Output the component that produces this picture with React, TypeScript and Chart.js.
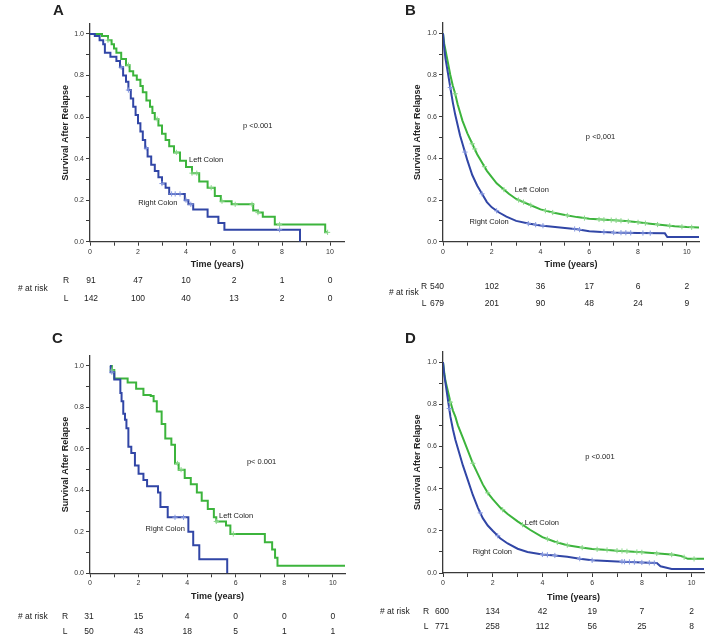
import React, { useEffect, useRef } from 'react';
import { Chart, registerables } from 'chart.js';

Chart.register(...registerables);

const FONT = '"Liberation Sans", Arial, Helvetica, sans-serif';
Chart.defaults.font.family = FONT;

const BLUE = '#3146a6';
const GREEN = '#3cb43c';
const BLUE_MARK = '#8598e0';
const GREEN_MARK = '#8ad88a';
const TEXT = '#222222';
const AXIS = '#3a3a3a';

// ---------- shared ticks ----------
const X_TICKS = [0, 1, 2, 3, 4, 5, 6, 7, 8, 9, 10];
const Y_TICKS = [0, 0.1, 0.2, 0.3, 0.4, 0.5, 0.6, 0.7, 0.8, 0.9, 1.0];
const RISK_TIMES = [0, 2, 4, 6, 8, 10];

// ---------- Panel A ----------
const A_RIGHT_T = [0, 0.2, 0.4, 0.55, 0.62, 0.85, 1.1, 1.25, 1.38, 1.5, 1.6, 1.7, 1.8, 1.9, 2.0, 2.1, 2.2, 2.3, 2.4, 2.55, 2.7, 2.85, 3.0, 3.15, 3.3, 3.95, 4.1, 4.3, 4.9, 5.35, 5.6, 8.75];
const A_RIGHT_S = [1.0, 0.99, 0.97, 0.95, 0.91, 0.89, 0.87, 0.84, 0.8, 0.77, 0.73, 0.69, 0.65, 0.61, 0.57, 0.53, 0.49, 0.45, 0.41, 0.37, 0.34, 0.31, 0.28, 0.26, 0.23, 0.2, 0.18, 0.155, 0.12, 0.09, 0.058, 0.0];
const A_RIGHT_CENSOR = [1.3, 1.6, 2.35, 3.0, 3.4, 3.55, 3.75, 4.0, 4.2, 7.9];
const A_LEFT_T = [0, 0.5, 0.75, 0.9, 1.0, 1.1, 1.3, 1.5, 1.65, 1.8, 1.95, 2.1, 2.2, 2.35, 2.5, 2.6, 2.7, 2.85, 3.0, 3.15, 3.3, 3.5, 3.75, 4.0, 4.25, 4.55, 4.9, 5.2, 5.45, 5.9, 6.8, 7.0, 7.2, 7.7, 9.8, 9.9];
const A_LEFT_S = [1.0, 0.99, 0.97, 0.95, 0.93, 0.91, 0.88, 0.85, 0.82, 0.8, 0.78, 0.75, 0.72, 0.68, 0.65, 0.62, 0.59, 0.56, 0.52, 0.49, 0.46, 0.43, 0.39, 0.36, 0.33, 0.29, 0.26, 0.22, 0.195, 0.18, 0.15, 0.14, 0.12, 0.083, 0.045, 0.045];
const A_LEFT_CENSOR = [0.75, 1.6, 2.8, 3.6, 4.25, 4.45, 5.05, 5.5, 6.05, 6.75, 7.0, 7.9, 9.9];
const A_RISK_R = [91, 47, 10, 2, 1, 0];
const A_RISK_L = [142, 100, 40, 13, 2, 0];

// ---------- Panel B ----------
const B_RIGHT_T = [0, 0.05, 0.1, 0.2, 0.3, 0.4, 0.5, 0.6, 0.7, 0.8, 0.9, 1.0, 1.2, 1.4, 1.6, 1.8, 2.0, 2.3, 2.6, 3.0, 3.5, 4.0, 4.5, 5.0, 5.5, 6.0, 6.5, 7.0, 8.0, 9.1, 9.2, 10.5];
const B_RIGHT_S = [1.0, 0.93, 0.88, 0.81, 0.74, 0.67, 0.61, 0.56, 0.51, 0.47, 0.43, 0.39, 0.32, 0.27, 0.23, 0.19, 0.165, 0.14, 0.12, 0.1, 0.087, 0.078, 0.072, 0.066, 0.06, 0.05, 0.047, 0.044, 0.042, 0.04, 0.022, 0.022];
const B_RIGHT_CENSOR = [0.3, 0.9, 1.6, 2.2, 3.5, 3.8, 4.1, 5.4, 5.6, 6.6, 7.0, 7.3, 7.5, 7.7, 8.2, 8.5];
const B_LEFT_T = [0, 0.05, 0.1, 0.2, 0.3, 0.4, 0.5, 0.6, 0.7, 0.8, 0.9, 1.0, 1.2, 1.4, 1.6, 1.8, 2.0, 2.2, 2.4, 2.7, 3.0, 3.3, 3.6, 4.0, 4.5, 5.0, 5.5, 6.0, 6.5, 7.0, 7.5, 8.0, 8.5, 9.0, 9.5, 10.0, 10.5];
const B_LEFT_S = [1.0, 0.95, 0.92, 0.86, 0.8, 0.75, 0.71, 0.66, 0.62, 0.58, 0.55, 0.52, 0.47, 0.42, 0.38, 0.34, 0.31, 0.28, 0.26, 0.23, 0.205, 0.19, 0.175, 0.155, 0.14, 0.128, 0.118, 0.11, 0.106, 0.103, 0.099, 0.093, 0.086, 0.08, 0.074, 0.07, 0.068];
const B_LEFT_CENSOR = [0.5, 1.2, 1.3, 1.7, 2.5, 3.1, 3.3, 3.6, 4.2, 4.5, 5.1, 5.8, 6.4, 6.6, 6.9, 7.1, 7.3, 7.6, 8.0, 8.3, 8.8, 9.3, 9.8, 10.2];
const B_RISK_R = [540, 102, 36, 17, 6, 2];
const B_RISK_L = [679, 201, 90, 48, 24, 9];

// ---------- Panel C ----------
const C_RIGHT_T = [0.82, 0.85, 1.0, 1.25, 1.3, 1.37, 1.44, 1.5, 1.58, 1.7, 1.85, 2.0, 2.2, 2.35, 2.8, 2.9, 3.2, 4.05, 4.25, 4.5, 5.65];
const C_RIGHT_S = [1.0, 0.97, 0.935, 0.87, 0.83, 0.77, 0.74, 0.7, 0.61, 0.58, 0.52, 0.48, 0.45, 0.42, 0.39, 0.32, 0.27, 0.2, 0.135, 0.068, 0.0];
const C_RIGHT_CENSOR = [0.9, 3.5, 3.85];
const C_LEFT_T = [0.82, 0.9, 1.0, 1.55, 1.9, 2.2, 2.5, 2.62, 2.75, 2.95, 3.1, 3.35, 3.5, 3.65, 3.9, 4.15, 4.4, 4.6, 4.85, 5.1, 5.2, 5.6, 5.78, 7.2, 7.5, 7.62, 7.72, 10.5];
const C_LEFT_S = [1.0, 0.98, 0.94, 0.92, 0.89, 0.86, 0.855, 0.83, 0.78, 0.72, 0.65, 0.62, 0.53, 0.5, 0.46, 0.43, 0.39, 0.35, 0.31, 0.27, 0.25, 0.23, 0.19, 0.15, 0.115, 0.075, 0.037, 0.037];
const C_LEFT_CENSOR = [0.9, 3.6, 3.75, 5.2, 5.9];
const C_RISK_R = [31, 15, 4, 0, 0, 0];
const C_RISK_L = [50, 43, 18, 5, 1, 1];

// ---------- Panel D ----------
const D_RIGHT_T = [0, 0.05, 0.1, 0.2, 0.3, 0.4, 0.5, 0.6, 0.8, 1.0, 1.2, 1.4, 1.6, 1.8, 2.0, 2.3, 2.6, 3.0, 3.4, 4.0, 4.5, 5.0, 5.5, 6.0, 7.0, 8.0, 8.6, 8.75, 9.2, 10.5];
const D_RIGHT_S = [1.0, 0.94, 0.9, 0.82, 0.74, 0.68, 0.63, 0.59, 0.51, 0.44, 0.37, 0.31, 0.26, 0.225, 0.2, 0.165, 0.14, 0.115, 0.1, 0.088, 0.083, 0.077, 0.068, 0.06, 0.055, 0.05, 0.047, 0.032, 0.019, 0.019];
const D_RIGHT_CENSOR = [0.25, 1.5, 2.2, 4.0, 4.2, 4.5, 5.5, 6.0, 7.2, 7.3, 7.5, 7.7, 8.0, 8.3, 8.5];
const D_LEFT_T = [0, 0.05, 0.1, 0.2, 0.3, 0.4, 0.5, 0.6, 0.8, 1.0, 1.2, 1.4, 1.6, 1.8, 2.0, 2.3, 2.6, 3.0, 3.5, 4.0, 4.5, 5.0, 5.5, 6.0, 6.5, 7.0, 8.0, 8.8, 9.3, 9.6, 9.85, 10.5];
const D_LEFT_S = [1.0, 0.95, 0.91, 0.86, 0.81, 0.77, 0.74, 0.7, 0.64, 0.58, 0.52, 0.47, 0.42, 0.38, 0.35, 0.31, 0.28, 0.245, 0.205, 0.17, 0.148, 0.132, 0.122, 0.114, 0.11, 0.106, 0.098, 0.091, 0.086, 0.08, 0.067, 0.067];
const D_LEFT_CENSOR = [0.3, 1.2, 1.8, 2.4, 3.2, 4.2, 4.6, 5.0, 5.6, 6.2, 6.6, 7.0, 7.2, 7.4, 7.8, 8.0, 8.6, 9.2, 9.7, 10.1];
const D_RISK_R = [600, 134, 42, 19, 7, 2];
const D_RISK_L = [771, 258, 112, 56, 25, 8];

// ---------- helpers ----------
function stepAt(ts: number[], ss: number[], t: number) {
  let v = ss[0];
  for (let i = 0; i < ts.length; i++) {
    if (ts[i] <= t) v = ss[i];
    else break;
  }
  return v;
}
function lineAt(ts: number[], ss: number[], t: number) {
  for (let i = 0; i < ts.length - 1; i++) {
    if (t >= ts[i] && t <= ts[i + 1]) {
      const f = (t - ts[i]) / (ts[i + 1] - ts[i]);
      return ss[i] + f * (ss[i + 1] - ss[i]);
    }
  }
  return ss[ss.length - 1];
}

type Curve = { t: number[]; s: number[]; censor: number[] };
type Spec = {
  letter: string;
  box: { x: number; y: number; w: number; h: number };
  pad: { left: number; top: number; right: number; bottom: number };
  yWidth: number;
  xHeight: number;
  yTitlePad: number;
  xMax: number;
  stepped: boolean;
  right: Curve;
  left: Curve;
  riskR: number[];
  riskL: number[];
  letterPos: [number, number];
  pText: string;
  pAt: [number, number];
  leftLabelAt: [number, number];
  rightLabelAt: [number, number];
  atRiskPos: [number, number];
  rlX: number;
  rowY: [number, number];
  firstOff: number;
};

const SPECS: Spec[] = [
  {
    letter: 'A',
    box: { x: 0, y: 0, w: 354, h: 310 },
    pad: { left: 0, top: 23.6, right: 9.6, bottom: 39.6 },
    yWidth: 90, xHeight: 28.7, yTitlePad: 60.6, xMax: 10.6, stepped: true,
    right: { t: A_RIGHT_T, s: A_RIGHT_S, censor: A_RIGHT_CENSOR },
    left: { t: A_LEFT_T, s: A_LEFT_S, censor: A_LEFT_CENSOR },
    riskR: A_RISK_R, riskL: A_RISK_L,
    letterPos: [53, 15], pText: 'p <0.001', pAt: [6.375, 0.556],
    leftLabelAt: [4.125, 0.393], rightLabelAt: [2.01, 0.1875],
    atRiskPos: [18, 289], rlX: 66, rowY: [281, 299], firstOff: 1,
  },
  {
    letter: 'B',
    box: { x: 354, y: 0, w: 355, h: 310 },
    pad: { left: 0, top: 22.9, right: 10, bottom: 39.6 },
    yWidth: 89, xHeight: 28.7, yTitlePad: 58.6, xMax: 10.5, stepped: false,
    right: { t: B_RIGHT_T, s: B_RIGHT_S, censor: B_RIGHT_CENSOR },
    left: { t: B_LEFT_T, s: B_LEFT_S, censor: B_LEFT_CENSOR },
    riskR: B_RISK_R, riskL: B_RISK_L,
    letterPos: [51, 14.5], pText: 'p <0,001', pAt: [5.86, 0.502],
    leftLabelAt: [2.94, 0.248], rightLabelAt: [1.09, 0.096],
    atRiskPos: [35, 293], rlX: 70, rowY: [287, 304], firstOff: -6,
  },
  {
    letter: 'C',
    box: { x: 0, y: 310, w: 354, h: 327 },
    pad: { left: 0, top: 45.6, right: 9, bottom: 34.6 },
    yWidth: 90, xHeight: 29.1, yTitlePad: 60.6, xMax: 10.5, stepped: true,
    right: { t: C_RIGHT_T, s: C_RIGHT_S, censor: C_RIGHT_CENSOR },
    left: { t: C_LEFT_T, s: C_LEFT_S, censor: C_LEFT_CENSOR },
    riskR: C_RISK_R, riskL: C_RISK_L,
    letterPos: [52, 33], pText: 'p< 0.001', pAt: [6.46, 0.537],
    leftLabelAt: [5.31, 0.278], rightLabelAt: [2.29, 0.214],
    atRiskPos: [18, 307], rlX: 65, rowY: [307, 322], firstOff: -1,
  },
  {
    letter: 'D',
    box: { x: 354, y: 310, w: 355, h: 327 },
    pad: { left: 0, top: 41.5, right: 3.5, bottom: 33.6 },
    yWidth: 89, xHeight: 30.4, yTitlePad: 58.6, xMax: 10.5, stepped: false,
    right: { t: D_RIGHT_T, s: D_RIGHT_S, censor: D_RIGHT_CENSOR },
    left: { t: D_LEFT_T, s: D_LEFT_S, censor: D_LEFT_CENSOR },
    riskR: D_RISK_R, riskL: D_RISK_L,
    letterPos: [51, 33], pText: 'p <0.001', pAt: [5.72, 0.55],
    leftLabelAt: [3.29, 0.237], rightLabelAt: [1.2, 0.098],
    atRiskPos: [26, 302], rlX: 72, rowY: [302, 317], firstOff: -1,
  },
];

function Panel({ spec }: { spec: Spec }) {
  const ref = useRef<HTMLCanvasElement>(null);

  useEffect(() => {
    const canvas = ref.current;
    if (!canvas) return;
    const at = spec.stepped ? stepAt : lineAt;
    const line = (c: Curve) => c.t.map((t, i) => ({ x: t, y: c.s[i] }));
    const marks = (c: Curve) => c.censor.map((t) => ({ x: t, y: at(c.t, c.s, t) }));

    const textPlugin = {
      id: 'panelText',
      afterDraw(chart: any) {
        const ctx: CanvasRenderingContext2D = chart.ctx;
        const xs = chart.scales.x;
        const ys = chart.scales.y;
        ctx.save();
        ctx.fillStyle = TEXT;
        // panel letter
        ctx.font = `bold 15px ${FONT}`;
        ctx.textAlign = 'left';
        ctx.textBaseline = 'alphabetic';
        ctx.fillText(spec.letter, spec.letterPos[0], spec.letterPos[1]);
        // annotations
        ctx.font = `7.5px ${FONT}`;
        ctx.textBaseline = 'middle';
        ctx.fillText(spec.pText, xs.getPixelForValue(spec.pAt[0]), ys.getPixelForValue(spec.pAt[1]));
        ctx.fillText('Left Colon', xs.getPixelForValue(spec.leftLabelAt[0]), ys.getPixelForValue(spec.leftLabelAt[1]));
        ctx.fillText('Right Colon', xs.getPixelForValue(spec.rightLabelAt[0]), ys.getPixelForValue(spec.rightLabelAt[1]));
        // risk table
        ctx.font = `8.5px ${FONT}`;
        ctx.fillText('# at risk', spec.atRiskPos[0], spec.atRiskPos[1]);
        ctx.textAlign = 'center';
        ctx.fillText('R', spec.rlX, spec.rowY[0]);
        ctx.fillText('L', spec.rlX, spec.rowY[1]);
        RISK_TIMES.forEach((t, i) => {
          const px = xs.getPixelForValue(t) + (i === 0 ? spec.firstOff : 0);
          ctx.fillText(String(spec.riskR[i]), px, spec.rowY[0]);
          ctx.fillText(String(spec.riskL[i]), px, spec.rowY[1]);
        });
        ctx.restore();
      },
    };

    const chart = new Chart(canvas, {
      type: 'scatter',
      data: {
        datasets: [
          {
            label: 'Right censored',
            data: marks(spec.right),
            showLine: false,
            pointStyle: 'cross',
            pointRadius: 2.6,
            borderWidth: 1,
            borderColor: BLUE_MARK,
            backgroundColor: BLUE_MARK,
            order: 0,
          },
          {
            label: 'Left censored',
            data: marks(spec.left),
            showLine: false,
            pointStyle: 'cross',
            pointRadius: 2.6,
            borderWidth: 1,
            borderColor: GREEN_MARK,
            backgroundColor: GREEN_MARK,
            order: 0,
          },
          {
            label: 'Right Colon',
            data: line(spec.right),
            showLine: true,
            stepped: spec.stepped,
            tension: 0,
            borderColor: BLUE,
            borderWidth: 2,
            pointRadius: 0,
            fill: false,
            order: 1,
          },
          {
            label: 'Left Colon',
            data: line(spec.left),
            showLine: true,
            stepped: spec.stepped,
            tension: 0,
            borderColor: GREEN,
            borderWidth: 2,
            pointRadius: 0,
            fill: false,
            order: 1,
          },
        ],
      } as any,
      options: {
        animation: false,
        responsive: true,
        maintainAspectRatio: false,
        events: [],
        layout: { padding: spec.pad },
        plugins: { legend: { display: false }, tooltip: { enabled: false }, title: { display: false } },
        scales: {
          x: {
            type: 'linear',
            min: 0,
            max: spec.xMax,
            afterBuildTicks: (s: any) => {
              s.ticks = X_TICKS.map((v) => ({ value: v }));
            },
            afterFit: (s: any) => {
              s.height = spec.xHeight;
            },
            ticks: {
              autoSkip: false,
              maxRotation: 0,
              padding: 2,
              color: '#333',
              font: { size: 7 },
              callback: (v: any) => (Math.round(Number(v)) % 2 === 0 ? String(v) : ''),
            },
            grid: { drawOnChartArea: false, drawTicks: true, tickLength: 4, color: AXIS, lineWidth: 1 },
            border: { color: AXIS, width: 1.3 },
            title: {
              display: true,
              text: 'Time (years)',
              color: TEXT,
              font: { size: 9, weight: 'bold' },
              padding: { top: 0, bottom: 0 },
            },
          },
          y: {
            type: 'linear',
            min: 0,
            max: 1.05,
            afterBuildTicks: (s: any) => {
              s.ticks = Y_TICKS.map((v) => ({ value: v }));
            },
            afterFit: (s: any) => {
              s.width = spec.yWidth;
            },
            ticks: {
              autoSkip: false,
              padding: 2,
              color: '#333',
              font: { size: 7 },
              callback: (v: any) => (Math.round(Number(v) * 10) % 2 === 0 ? Number(v).toFixed(1) : ''),
            },
            grid: { drawOnChartArea: false, drawTicks: true, tickLength: 4, color: AXIS, lineWidth: 1 },
            border: { color: AXIS, width: 1.3 },
            title: {
              display: true,
              text: 'Survival After Relapse',
              color: TEXT,
              font: { size: 9, weight: 'bold' },
              padding: { top: spec.yTitlePad, bottom: 0 },
            },
          },
        },
      } as any,
      plugins: [textPlugin],
    });
    return () => chart.destroy();
  }, [spec]);

  return (
    <div
      style={{
        position: 'absolute',
        left: spec.box.x,
        top: spec.box.y,
        width: spec.box.w,
        height: spec.box.h,
      }}
    >
      <canvas ref={ref} />
    </div>
  );
}

export default function App() {
  return (
    <div
      style={{
        position: 'absolute',
        left: 0,
        top: 0,
        width: 709,
        height: 637,
        background: '#ffffff',
        overflow: 'hidden',
      }}
    >
      {SPECS.map((s) => (
        <Panel key={s.letter} spec={s} />
      ))}
    </div>
  );
}
